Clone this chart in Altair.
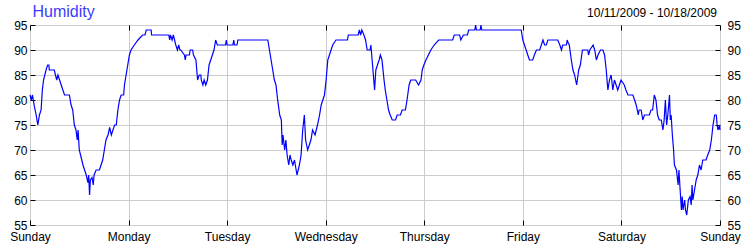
import altair as alt
import pandas as pd

# ---- data (hours since Sunday 00:00, relative humidity %) ----
hours = [
    0, 0.3, 0.6, 1.0, 1.5, 1.9, 2.3, 2.7, 3.0, 3.3, 3.9, 4.3, 4.6, 4.7, 5.9, 6.2, 6.5, 6.8, 7.2, 7.6,
    8.0, 8.4, 9.6, 10.0, 10.4, 10.8, 11.2, 11.5, 11.7, 12.0, 12.4, 12.9, 13.3, 13.7, 14.1, 14.3, 14.5,
    14.7, 15.1, 15.4, 15.6, 16.1, 16.9, 17.3, 17.7, 18.1, 18.5, 19.0, 19.4, 19.8, 20.2, 20.6, 21.0,
    21.4, 21.8, 22.2, 22.8, 23.0, 23.4, 23.8, 24.2,
    24.6, 25.4, 26.3, 27.4, 28.0, 28.3, 29.5, 29.6, 33.8, 34.0, 34.2, 34.6, 34.9, 35.2, 35.5, 35.9,
    36.2, 36.5, 36.7, 37.6, 37.8, 38.0, 38.8, 39.0, 39.6, 39.8, 40.4, 40.8, 41.2, 41.6, 41.7, 42.1,
    42.4, 42.8, 43.2, 43.6, 44.0, 44.4, 44.8, 45.2, 45.6, 47.6, 47.8, 48.0,
    49.4, 49.6, 49.8, 50.4, 50.6, 57.9, 58.3, 58.7, 59.1, 59.5, 59.9, 60.3, 60.8, 61.2, 61.4, 61.6,
    62.0, 62.3, 62.6, 63.0, 63.3, 63.6, 64.0, 64.4, 64.6, 65.0, 65.3, 65.6, 66.0, 66.4, 66.8, 67.1,
    67.6, 68.0, 68.4, 68.8, 69.4, 70.0, 70.5, 70.9, 71.3, 71.7, 72.1,
    72.5, 72.9, 73.7, 74.5, 77.3, 77.5, 79.9, 80.2, 80.5, 80.8, 81.3, 81.7, 82.1, 82.8, 83.0, 83.4,
    83.7, 83.9, 84.2, 84.6, 85.0, 85.3, 85.7, 86.2, 86.5, 86.9, 87.3, 87.7, 88.2, 89.0, 89.4, 90.2,
    90.6, 91.4, 91.8, 92.3, 92.7, 93.9, 94.6, 95.2, 95.5, 95.9,
    96.4, 97.0, 97.6, 98.4, 99.5, 102.9, 103.3, 104.6, 104.9, 105.5, 106.5, 106.8, 108.3, 108.5,
    108.7, 109.6, 109.8, 110.0, 119.6,
    120.0, 120.4, 120.8, 121.2, 121.6, 122.4, 122.8, 123.3, 124.1, 124.5, 124.9, 125.3, 125.7, 126.1,
    128.5, 129.0, 129.4, 129.7, 130.6, 130.8, 131.0, 131.3, 131.8, 132.2, 132.6, 133.1, 133.6, 134.0,
    134.5, 135.8, 136.0, 136.3, 137.1, 137.5, 137.9, 138.3, 138.9, 139.5, 139.9, 140.3, 140.7, 141.1,
    141.5, 141.9, 142.3, 142.7, 143.1, 143.5,
    143.9, 144.7, 145.1, 145.6, 146.8, 147.2, 147.6, 148.1, 148.3, 148.8, 149.2, 149.6, 150.8, 151.2,
    151.6, 152.0, 152.4, 152.8, 153.2, 153.7, 154.1, 154.4, 154.7, 155.0, 155.3, 155.7, 155.9, 156.1,
    156.4, 156.7, 156.9, 157.4, 157.8, 158.0, 158.3, 158.6, 158.8, 159.0, 159.4, 159.6, 159.9, 160.3,
    160.7, 161.0, 161.2, 161.4, 161.8, 162.2, 162.6, 163.0, 163.4, 163.8, 164.6, 165.0, 165.5, 165.9,
    166.3, 166.7, 167.1, 167.3, 167.5, 167.9, 168.0,
]
humidity = [
    81, 80, 81, 79, 77, 75, 77, 78, 82, 84, 86, 87, 87, 86, 86, 85, 84, 85, 84, 83,
    82, 81, 81, 79, 78, 75, 74, 72, 74, 70, 68.7, 67, 66, 65, 63.5, 65, 61,
    64, 64.5, 63, 65, 66, 66, 67, 68, 70, 72, 73, 74.5, 73, 74, 75, 75,
    78, 80, 81, 81, 83, 85, 87, 89,
    90, 91, 92, 93, 93, 94, 94, 93, 93, 92, 93, 92, 93, 92, 91, 90,
    91, 90, 90, 89, 88, 89, 89, 90, 90, 89, 88, 84, 85, 85, 84, 83,
    84, 83, 84, 87, 88, 89, 90, 92, 91, 91, 92, 91,
    91, 92, 91, 91, 92, 92, 90, 88, 86, 84, 83, 80, 77, 76, 71, 73,
    70, 72, 69, 67, 69, 68, 67, 68, 67, 65, 66, 67, 69, 74, 77, 72,
    70, 71, 72, 74, 73, 75, 77, 79, 80, 81, 84,
    88, 89, 91, 92, 92, 93, 93, 94, 93, 94, 93, 92, 90, 90, 91, 87,
    84, 82, 86, 87, 88, 89, 88, 84, 82, 80, 78, 77, 76, 76, 77, 77,
    78, 78, 80, 83, 84, 84, 83, 84, 86, 87,
    88, 89, 90, 91, 92, 92, 93, 93, 92, 93, 93, 94, 94, 95,
    94, 94, 95, 94, 94,
    92, 91, 90, 89, 88, 88, 89, 90, 90, 91, 92, 91, 91, 92,
    92, 91, 90, 91, 91, 92, 91.5, 91, 88, 86, 85, 83, 86, 87,
    90, 90, 89, 90, 91, 90, 88, 89, 90, 90, 89, 86, 82, 84,
    85, 82, 84, 83, 82, 83,
    84, 83, 82, 81, 81, 80, 79, 77, 78, 78, 76, 77, 77, 78,
    78, 81, 80, 77, 76, 76, 74, 76, 80, 75, 77, 81, 76, 77,
    73, 70, 67, 66, 63, 66, 62, 58, 60.7, 58, 60, 58, 57, 60,
    60.7, 59, 63, 60, 62, 64, 65, 67, 66, 68, 68, 69, 70, 72,
    75, 77, 77, 75, 74, 75, 74,
]
day_ticks = [0, 24, 48, 72, 96, 120, 144, 168]
day_names = ["Sunday", "Monday", "Tuesday", "Wednesday", "Thursday", "Friday", "Saturday", "Sunday"]
y_ticks = [55, 60, 65, 70, 75, 80, 85, 90, 95]
title_text = "Humidity"
range_text = "10/11/2009 - 10/18/2009"

FONT = "Liberation Sans"
df = pd.DataFrame({"hour": hours, "humidity": humidity})
label_expr = "[" + ",".join("'%s'" % d for d in day_names) + "][round(datum.value / 24)]"

xscale = alt.Scale(domain=[0, 168], nice=False, zero=False)
yscale = alt.Scale(domain=[55, 95], nice=False, zero=False)

common = dict(domain=False, ticks=True, tickSize=5, tickColor="black", tickWidth=1,
              offset=-5, title=None, labelFont=FONT, labelFontSize=12, labelColor="black",
              labelOverlap=False)

line = alt.Chart(df).mark_line(color="#0000ff", strokeWidth=1.2).encode(
    x=alt.X("hour:Q", scale=xscale,
            axis=alt.Axis(orient="bottom", values=day_ticks, labelExpr=label_expr,
                          grid=True, gridColor="#cccccc", gridWidth=1, labelPadding=6,
                          labelFlush=False, **common)),
    y=alt.Y("humidity:Q", scale=yscale,
            axis=alt.Axis(orient="left", values=y_ticks, grid=True, gridColor="#cccccc",
                          gridWidth=1, labelPadding=3, **common)),
)

frame = alt.Chart(df).mark_line(opacity=0).encode(
    x=alt.X("hour:Q", scale=xscale,
            axis=alt.Axis(orient="top", values=day_ticks, labels=False, grid=False, **common)),
    y=alt.Y("humidity:Q", scale=yscale,
            axis=alt.Axis(orient="right", values=y_ticks, grid=False, labelPadding=7, **common)),
)

title_df = pd.DataFrame({"t": [title_text]})
range_df = pd.DataFrame({"t": [range_text]})
title_mark = alt.Chart(title_df).mark_text(
    align="left", baseline="alphabetic", font=FONT, fontSize=16, color="#3b3bff"
).encode(x=alt.value(2.5), y=alt.value(-8.5), text="t:N")
range_mark = alt.Chart(range_df).mark_text(
    align="right", baseline="alphabetic", font=FONT, fontSize=12, color="black"
).encode(x=alt.value(687), y=alt.value(-8.5), text="t:N")

chart = (
    alt.layer(frame, line, title_mark, range_mark)
    .resolve_axis(x="independent", y="independent")
    .properties(width=690, height=200,
                autosize=alt.AutoSizeParams(type="none"),
                padding={"left": 30, "top": 25, "right": 30, "bottom": 25})
    .configure_view(stroke="black", strokeWidth=1)
    .configure(background="white")
)

chart.save("out.html", embed_options={"renderer": "svg", "actions": False})
